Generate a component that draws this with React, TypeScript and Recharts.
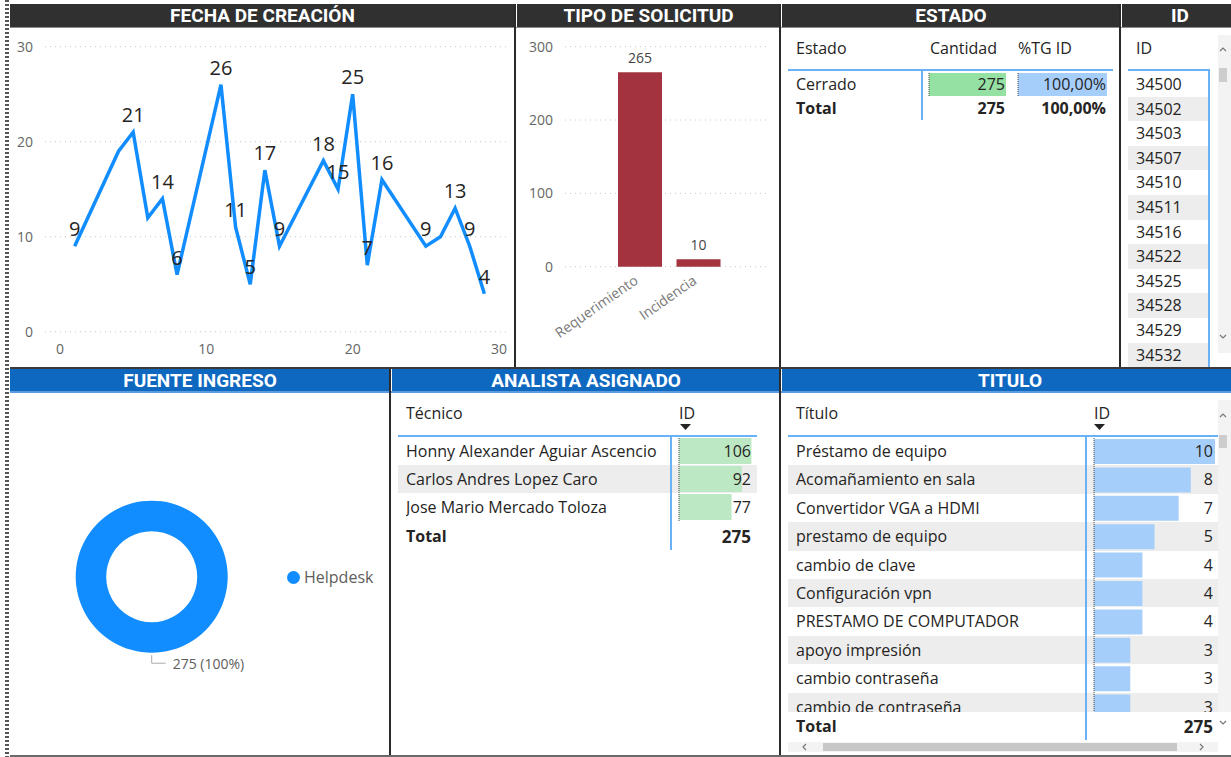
import React from "react";
import {
  LineChart, Line, BarChart, Bar, PieChart, Pie, Cell, XAxis, YAxis, CartesianGrid,
  LabelList, ReferenceLine, Legend,
} from "recharts";

const FONT = '"Segoe UI", "Open Sans", sans-serif';
const TITLE_FONT = 'Roboto, "DejaVu Sans", sans-serif';
const TEXT = "#252423";
const MUTED = "#605E5C";
const TICK = "#666";
const BLUE_LINE = "#6AB2F7";
const ROW_GREY = "#EDEDED";
const PBI_BLUE = "#118DFF";

// FECHA DE CREACIÓN (dias habiles del mes)
const days = [1, 4, 5, 6, 7, 8, 11, 12, 13, 14, 15, 18, 19, 20, 21, 22, 25, 26, 27, 28, 29];
const ticketsPerDay = [9, 19, 21, 12, 14, 6, 26, 11, 5, 17, 9, 18, 15, 25, 7, 16, 9, 10, 13, 9, 4];
const hiddenLabelDays = [4, 6, 26];
const dayTicks = [0, 10, 20, 30];
const countTicks = [0, 10, 20, 30];

// TIPO DE SOLICITUD
const tipos = ["Requerimiento", "Incidencia"];
const tipoCounts = [265, 10];
const tipoTicks = [0, 100, 200, 300];

// ESTADO
const estados = ["Cerrado"];
const estadoCounts = [275];
const estadoPct = [100];

// ID
const ids = [34500, 34502, 34503, 34507, 34510, 34511, 34516, 34522, 34525, 34528, 34529, 34532];

// FUENTE INGRESO
const fuentes = ["Helpdesk"];
const fuenteCounts = [275];

// ANALISTA ASIGNADO
const analistas = [
  "Honny Alexander Aguiar Ascencio",
  "Carlos Andres Lopez Caro",
  "Jose Mario Mercado Toloza",
];
const analistaCounts = [106, 92, 77];

// TITULO
const titulos = [
  "Préstamo de equipo",
  "Acomañamiento en sala",
  "Convertidor VGA a HDMI",
  "prestamo de equipo",
  "cambio de clave",
  "Configuración vpn",
  "PRESTAMO DE COMPUTADOR",
  "apoyo impresión",
  "cambio contraseña",
  "cambio de contraseña",
];
const tituloCounts = [10, 8, 7, 5, 4, 4, 4, 3, 3, 3];

const totalTickets = 275;

const lineData = days.map((d, i) => ({ day: d, tickets: ticketsPerDay[i] }));
const tipoData = tipos.map((t, i) => ({ tipo: t, count: tipoCounts[i] }));
const fuenteData = fuentes.map((f, i) => ({ name: f, value: fuenteCounts[i] }));

const pct = (v: number) => v.toFixed(2).replace(".", ",") + "%";

function Header({ left, top, width, title, bg }: any) {
  return (
    <div
      style={{
        position: "absolute", left, top, width, height: 23, background: bg, color: "#fff",
        fontFamily: TITLE_FONT, fontWeight: 700, fontSize: 19, lineHeight: "23px",
        textAlign: "center", overflow: "hidden",
      }}
    >
      {title}
    </div>
  );
}

function Txt({ left, top, width, height, children, bold, align, size, color }: any) {
  return (
    <div
      style={{
        position: "absolute", left, top, width, height, lineHeight: `${height}px`,
        fontFamily: FONT, fontSize: size ?? 16, fontWeight: bold ? 700 : 400,
        color: color ?? TEXT, textAlign: align ?? "left", whiteSpace: "nowrap", overflow: "hidden",
      }}
    >
      {children}
    </div>
  );
}

function Box({ left, top, width, height, bg }: any) {
  return <div style={{ position: "absolute", left, top, width, height, background: bg }} />;
}

function SortArrow({ left, top }: any) {
  return (
    <svg style={{ position: "absolute", left, top }} width={11} height={6}>
      <polygon points="0,0 11,0 5.5,6" fill={TEXT} />
    </svg>
  );
}

function Chevron({ left, top, dir }: any) {
  const pts =
    dir === "up" ? "1,5 4,2 7,5" : dir === "down" ? "1,2 4,5 7,2" : dir === "left" ? "5,1 2,4 5,7" : "2,1 5,4 2,7";
  return (
    <svg style={{ position: "absolute", left, top }} width={8} height={8}>
      <polyline points={pts} fill="none" stroke="#777" strokeWidth={1.2} />
    </svg>
  );
}

// barras de datos dentro de las tablas
function DataBars({ left, top, values, max, barWidth, rowHeight, barHeight, fill }: any) {
  const data = values.map((v: number, i: number) => ({ row: String(i), v }));
  return (
    <div style={{ position: "absolute", left: left - 1, top }}>
      <BarChart
        width={barWidth + 1}
        height={rowHeight * values.length}
        data={data}
        layout="vertical"
        margin={{ top: 0, right: 0, bottom: 0, left: 1 }}
      >
        <XAxis type="number" hide domain={[0, max]} />
        <YAxis type="category" dataKey="row" hide width={0} />
        <Bar dataKey="v" fill={fill} barSize={barHeight} isAnimationActive={false} />
        <ReferenceLine x={0} stroke="#444" strokeDasharray="1 1" />
      </BarChart>
    </div>
  );
}

const renderLineLabel = (props: any) => {
  const { x, y, value, index } = props;
  if (hiddenLabelDays.includes(days[index])) return null;
  return (
    <text x={x} y={y - 10} textAnchor="middle" fontSize={20} fontFamily={FONT} fill={TEXT}>
      {value}
    </text>
  );
};

const renderTipoTick = (props: any) => {
  const { x, y, payload } = props;
  return (
    <g transform={`translate(${x - 4},${y + 8})`}>
      <text x={0} y={0} dy="0.35em" textAnchor="end" transform="rotate(-35)" fontSize={14} fontFamily={FONT} fill="#777">
        {payload.value}
      </text>
    </g>
  );
};

const renderDonutLabel = (props: any) => {
  const { cx, cy, midAngle, outerRadius, value, percent } = props;
  const RAD = Math.PI / 180;
  const sx = cx + (outerRadius + 2.5) * Math.cos(-midAngle * RAD);
  const sy = cy + (outerRadius + 2.5) * Math.sin(-midAngle * RAD);
  const ey = sy + 8;
  const ex = sx + 14;
  return (
    <g>
      <polyline points={`${sx},${sy} ${sx},${ey} ${ex},${ey}`} fill="none" stroke="#aaa" />
      <text x={ex + 7} y={ey} dominantBaseline="central" fontSize={14} fontFamily={FONT} fill={MUTED}>
        {`${value} (${Math.round(percent * 100)}%)`}
      </text>
    </g>
  );
};

const renderDonutLegend = () => (
  <div style={{ display: "flex", alignItems: "center", fontFamily: FONT, fontSize: 16, color: MUTED }}>
    {fuentes.map((f) => (
      <span key={f} style={{ display: "flex", alignItems: "center" }}>
        <span style={{ width: 13, height: 13, borderRadius: "50%", background: PBI_BLUE, marginRight: 4 }} />
        {f}
      </span>
    ))}
  </div>
);

export default function App() {
  const tituloRow = 28.4;
  const analistaRow = 28;
  const idRow = 24.6;

  return (
    <div
      style={{
        position: "absolute", left: 0, top: 0, width: 1231, height: 757, overflow: "hidden",
        background: "#fff", fontFamily: FONT,
      }}
    >
      {/* borde punteado izquierdo */}
      <div
        style={{
          position: "absolute", left: 5, top: 0, width: 4, height: 757,
          background: "repeating-linear-gradient(to bottom, #555 0px, #555 2px, #fff 2px, #fff 4px)",
        }}
      />

      {/* encabezados */}
      <Header left={10} top={4} width={505} title="FECHA DE CREACIÓN" bg="#303030" />
      <Header left={517} top={4} width={263} title="TIPO DE SOLICITUD" bg="#303030" />
      <Header left={782} top={4} width={338} title="ESTADO" bg="#303030" />
      <Header left={1122} top={4} width={116} title="ID" bg="#303030" />
      <Box left={10} top={27} width={1221} height={1} bg="#8c8c8c" />

      <Header left={10} top={369} width={380} title="FUENTE INGRESO" bg="#0F68C0" />
      <Header left={392} top={369} width={388} title="ANALISTA ASIGNADO" bg="#0F68C0" />
      <Header left={782} top={369} width={456} title="TITULO" bg="#0F68C0" />
      <Box left={10} top={391} width={1221} height={1.5} bg="#5A9BDD" />

      {/* separadores */}
      <Box left={514} top={4} width={2} height={364} bg="#2a2a2a" />
      <Box left={779} top={4} width={2} height={364} bg="#2a2a2a" />
      <Box left={1119} top={4} width={2} height={364} bg="#2a2a2a" />
      <Box left={10} top={367} width={1221} height={2} bg="#3a3a3a" />
      <Box left={389} top={369} width={2} height={388} bg="#2a2a2a" />
      <Box left={779} top={369} width={2} height={388} bg="#2a2a2a" />
      <Box left={10} top={755} width={1221} height={2} bg="#6a6a6a" />

      {/* FECHA DE CREACIÓN */}
      <div style={{ position: "absolute", left: 10, top: 27 }}>
        <LineChart width={504} height={340} data={lineData} margin={{ top: 19.7, right: 6, bottom: 5.3, left: 7 }}>
          <CartesianGrid vertical={false} stroke="#c8c8c8" strokeDasharray="1 4" />
          <XAxis
            type="number"
            dataKey="day"
            domain={[-1.025, 30.615]}
            allowDataOverflow
            ticks={dayTicks}
            axisLine={false}
            tickLine={false}
            tickSize={0}
            tickMargin={12}
            height={30}
            tick={{ fontSize: 14, fill: TICK, fontFamily: FONT }}
          />
          <YAxis
            domain={[0, 30]}
            ticks={countTicks}
            axisLine={false}
            tickLine={false}
            tickSize={0}
            tickMargin={12}
            width={28}
            tick={{ fontSize: 14, fill: TICK, fontFamily: FONT }}
          />
          <Line
            type="linear"
            dataKey="tickets"
            stroke={PBI_BLUE}
            strokeWidth={3.5}
            dot={false}
            isAnimationActive={false}
          >
            <LabelList dataKey="tickets" content={renderLineLabel} />
          </Line>
        </LineChart>
      </div>

      {/* TIPO DE SOLICITUD */}
      <div style={{ position: "absolute", left: 517, top: 27 }}>
        <BarChart width={262} height={340} data={tipoData} margin={{ top: 19.7, right: 9, bottom: 5.3, left: 8 }}>
          <CartesianGrid vertical={false} stroke="#c8c8c8" strokeDasharray="1 4" />
          <XAxis
            dataKey="tipo"
            padding={{ left: 46, right: 42 }}
            axisLine={false}
            tickLine={false}
            tickSize={0}
            tickMargin={4}
            height={95}
            interval={0}
            tick={renderTipoTick}
          />
          <YAxis
            domain={[0, 300]}
            ticks={tipoTicks}
            axisLine={false}
            tickLine={false}
            tickSize={0}
            tickMargin={12}
            width={40}
            tick={{ fontSize: 14, fill: TICK, fontFamily: FONT }}
          />
          <Bar dataKey="count" fill="#A2333F" barSize={44} isAnimationActive={false}>
            <LabelList dataKey="count" position="top" offset={9} fontSize={14} fill="#444" fontFamily={FONT} />
          </Bar>
        </BarChart>
      </div>

      {/* ESTADO */}
      <Txt left={796} top={36} height={24}>Estado</Txt>
      <Txt left={930} top={36} height={24}>Cantidad</Txt>
      <Txt left={1018} top={36} height={24}>%TG ID</Txt>
      <Box left={788} top={69} width={325} height={2} bg={BLUE_LINE} />
      <Box left={921} top={71} width={2} height={49} bg={BLUE_LINE} />
      <DataBars left={929} top={72} values={estadoCounts} max={Math.max(...estadoCounts)} barWidth={77} rowHeight={24} barHeight={23} fill="#95E0A3" />
      <DataBars left={1018} top={72} values={estadoPct} max={100} barWidth={89} rowHeight={24} barHeight={23} fill="#A6CEFA" />
      {estados.map((e, i) => (
        <React.Fragment key={e}>
          <Txt left={796} top={72 + i * 24} height={24}>{e}</Txt>
          <Txt left={930} top={72 + i * 24} width={75} height={24} align="right">{estadoCounts[i]}</Txt>
          <Txt left={1010} top={72 + i * 24} width={96} height={24} align="right">{pct(estadoPct[i])}</Txt>
        </React.Fragment>
      ))}
      <Txt left={796} top={96} height={24} bold>Total</Txt>
      <Txt left={930} top={96} width={75} height={24} align="right" bold>{totalTickets}</Txt>
      <Txt left={1010} top={96} width={96} height={24} align="right" bold>{pct(100)}</Txt>

      {/* ID */}
      <Txt left={1136} top={36} height={24}>ID</Txt>
      <Box left={1128} top={69} width={82} height={2} bg={BLUE_LINE} />
      <div style={{ position: "absolute", left: 1128, top: 72, width: 80, height: 295, overflow: "hidden" }}>
        {ids.map((id, i) => (
          <div
            key={id}
            style={{
              position: "absolute", left: 0, top: i * idRow, width: 80, height: idRow,
              background: i % 2 === 1 ? ROW_GREY : "transparent",
            }}
          >
            <Txt left={8} top={0} height={idRow}>{id}</Txt>
          </div>
        ))}
      </div>
      <Box left={1208} top={71} width={2} height={296} bg={BLUE_LINE} />
      <Box left={1218} top={35} width={13} height={318} bg="#F3F3F3" />
      <Box left={1219} top={68} width={8} height={14} bg="#CDCDCD" />
      <Chevron left={1219} top={46} dir="up" />
      <Chevron left={1219} top={333} dir="down" />

      {/* FUENTE INGRESO */}
      <div style={{ position: "absolute", left: 10, top: 392 }}>
        <PieChart width={378} height={362} margin={{ top: 0, right: 0, bottom: 0, left: 0 }}>
          <Pie
            data={fuenteData}
            dataKey="value"
            nameKey="name"
            cx={141.7}
            cy={184.7}
            innerRadius={45.5}
            outerRadius={76}
            startAngle={90}
            endAngle={-270}
            stroke="none"
            label={renderDonutLabel}
            labelLine={false}
            isAnimationActive={false}
          >
            {fuenteData.map((d) => (
              <Cell key={d.name} fill={PBI_BLUE} />
            ))}
          </Pie>
          <Legend
            content={renderDonutLegend}
            wrapperStyle={{ position: "absolute", left: 277, top: 174, width: 100 }}
          />
        </PieChart>
      </div>

      {/* ANALISTA ASIGNADO */}
      <Txt left={406} top={401} height={24}>Técnico</Txt>
      <Txt left={679} top={401} height={24}>ID</Txt>
      <SortArrow left={680} top={424} />
      <Box left={398} top={435} width={359} height={2} bg={BLUE_LINE} />
      {analistas.map((a, i) =>
        i % 2 === 1 ? (
          <Box key={a} left={398} top={437 + i * analistaRow} width={359} height={analistaRow} bg={ROW_GREY} />
        ) : null
      )}
      <DataBars
        left={679.3}
        top={437}
        values={analistaCounts}
        max={Math.max(...analistaCounts)}
        barWidth={72.4}
        rowHeight={analistaRow}
        barHeight={26}
        fill="#BCE9C3"
      />
      {analistas.map((a, i) => (
        <React.Fragment key={a}>
          <Txt left={406} top={437 + i * analistaRow} width={264} height={analistaRow}>{a}</Txt>
          <Txt left={680} top={437 + i * analistaRow} width={71} height={analistaRow} align="right">{analistaCounts[i]}</Txt>
        </React.Fragment>
      ))}
      <Txt left={406} top={522} height={28} bold>Total</Txt>
      <Txt left={680} top={523} width={71} height={28} align="right" bold size={17}>{totalTickets}</Txt>
      <Box left={670} top={437} width={2} height={113} bg={BLUE_LINE} />

      {/* TITULO */}
      <Txt left={796} top={401} height={24}>Título</Txt>
      <Txt left={1094} top={401} height={24}>ID</Txt>
      <SortArrow left={1094} top={424} />
      <Box left={788} top={435} width={430} height={2} bg={BLUE_LINE} />
      <div style={{ position: "absolute", left: 788, top: 437, width: 430, height: 275, overflow: "hidden" }}>
        {titulos.map((t, i) =>
          i % 2 === 1 ? (
            <Box key={t} left={0} top={i * tituloRow} width={430} height={tituloRow} bg={ROW_GREY} />
          ) : null
        )}
        <DataBars
          left={306}
          top={0}
          values={tituloCounts}
          max={Math.max(...tituloCounts)}
          barWidth={121}
          rowHeight={tituloRow}
          barHeight={25}
          fill="#A6CEFA"
        />
        {titulos.map((t, i) => (
          <React.Fragment key={t}>
            <Txt left={8} top={i * tituloRow} height={tituloRow}>{t}</Txt>
            <Txt left={306} top={i * tituloRow} width={119} height={tituloRow} align="right">{tituloCounts[i]}</Txt>
          </React.Fragment>
        ))}
      </div>
      <Box left={1085} top={437} width={2} height={303} bg={BLUE_LINE} />
      <Txt left={796} top={712} height={28} bold>Total</Txt>
      <Txt left={1094} top={713} width={119} height={28} align="right" bold size={17}>{totalTickets}</Txt>
      <Box left={1218} top={400} width={13} height={312} bg="#F3F3F3" />
      <Box left={1219} top={435} width={8} height={13} bg="#CDCDCD" />
      <Chevron left={1219} top={412} dir="up" />
      <Chevron left={1219} top={719} dir="down" />
      <Box left={788} top={742} width={430} height={10} bg="#F3F3F3" />
      <Box left={823} top={743} width={354} height={8} bg="#C8C8C8" />
      <Chevron left={801} top={743} dir="left" />
      <Chevron left={1198} top={743} dir="right" />
    </div>
  );
}
